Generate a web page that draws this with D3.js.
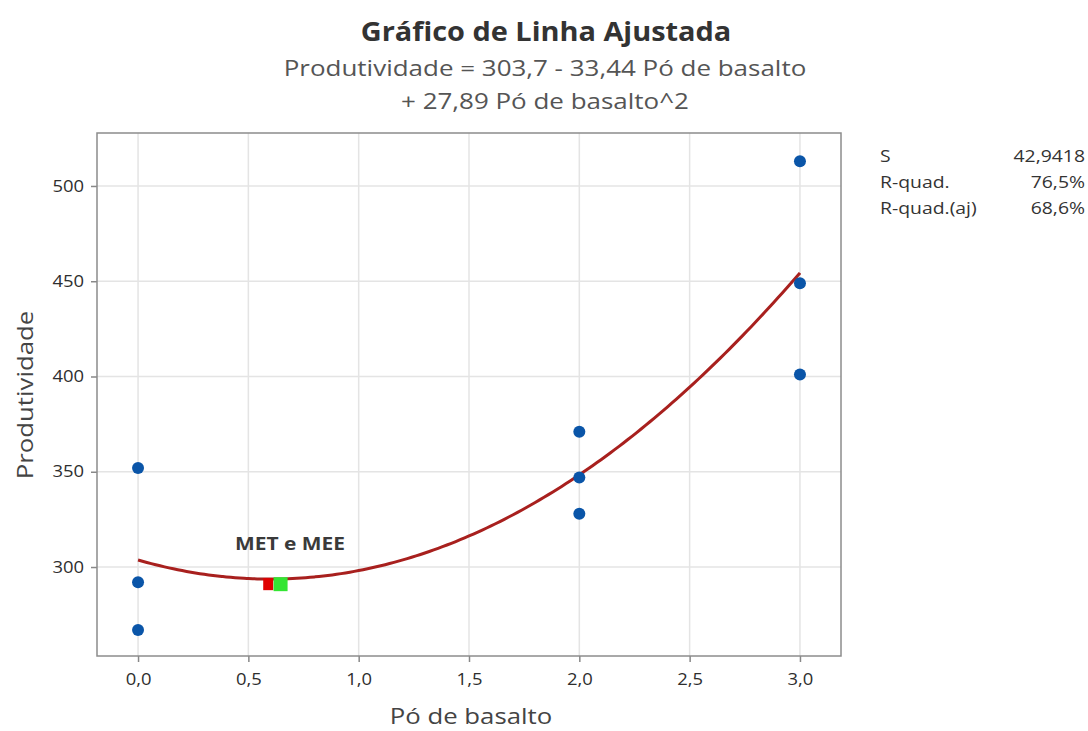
<!DOCTYPE html>
<html>
<head>
<meta charset="utf-8">
<script src="https://cdn.jsdelivr.net/npm/d3@7"></script>
<style>
  body { margin: 0; background: #fff; }
  text { font-family: "Open Sans", "Noto Sans", sans-serif; }
</style>
</head>
<body>
<svg id="chart" width="1088" height="731"></svg>
<script>
// data
const doses = [0, 0, 0, 2, 2, 2, 3, 3, 3];
const produtividade = [352, 292, 267, 371, 347, 328, 513, 449, 401];
// fitted model: b0 + b1*x + b2*x^2
const coef = [303.7, -33.44, 27.89];
const xTicks = [0, 0.5, 1, 1.5, 2, 2.5, 3];
const yTicks = [300, 350, 400, 450, 500];
const optimos = [
  { name: 'MET', x: 0.59, y: 291, color: '#e00000' },
  { name: 'MEE', x: 0.646, y: 291, color: '#33e533' }
];
const stats = [['S', '42,9418'], ['R-quad.', '76,5%'], ['R-quad.(aj)', '68,6%']];

const svg = d3.select('#chart');
const fmt = d3.format('.1f');
const comma = (v) => fmt(v).replace('.', ',');

// the source picture is a bit wider than tall, so widen the text a little
function stretch(sel, k) {
  sel.each(function () {
    const w = this.getComputedTextLength();
    d3.select(this)
      .attr('textLength', w * k)
      .attr('lengthAdjust', 'spacingAndGlyphs');
  });
}

const plotL = 97, plotR = 841, plotT = 133, plotB = 656;

const x = d3.scaleLinear().domain([-0.186, 3.186]).range([plotL, plotR]);
const y = d3.scaleLinear().domain([253.3, 527.8]).range([plotB, plotT]);

// grid
svg.append('g').selectAll('line.gx')
  .data(xTicks)
  .enter()
  .append('line')
  .attr('x1', (d) => x(d)).attr('x2', (d) => x(d))
  .attr('y1', plotT).attr('y2', plotB)
  .attr('stroke', '#e4e4e4').attr('stroke-width', 1.5);

svg.append('g').selectAll('line.gy')
  .data(yTicks)
  .enter()
  .append('line')
  .attr('x1', plotL).attr('x2', plotR)
  .attr('y1', (d) => y(d)).attr('y2', (d) => y(d))
  .attr('stroke', '#e4e4e4').attr('stroke-width', 1.5);

// axes
const xAxis = svg.append('g')
  .attr('transform', `translate(0,${plotB})`)
  .call(d3.axisBottom(x).tickValues(xTicks).tickSize(6).tickPadding(12).tickFormat(comma));
const yAxis = svg.append('g')
  .attr('transform', `translate(${plotL},0)`)
  .call(d3.axisLeft(y).tickValues(yTicks).tickSize(6).tickPadding(7));

[xAxis, yAxis].forEach((a) => {
  a.select('.domain').remove();
  a.selectAll('line').attr('stroke', '#888').attr('stroke-width', 1.5);
  a.selectAll('text')
    .attr('font-size', 16)
    .attr('fill', '#2e2e2e')
    .style('font-family', '"Open Sans", "Noto Sans", sans-serif');
  stretch(a.selectAll('text'), 1.15);
});

// frame
svg.append('rect')
  .attr('x', plotL).attr('y', plotT)
  .attr('width', plotR - plotL).attr('height', plotB - plotT)
  .attr('fill', 'none')
  .attr('stroke', '#8c8c8c')
  .attr('stroke-width', 1.5);

// fitted curve
const curveX = d3.range(0, 3.0001, 0.02);
const line = d3.line()
  .x((d) => x(d))
  .y((d) => y(coef[0] + coef[1] * d + coef[2] * d * d))
  .curve(d3.curveMonotoneX);
svg.append('path')
  .datum(curveX)
  .attr('d', line)
  .attr('fill', 'none')
  .attr('stroke', '#a8201e')
  .attr('stroke-width', 3);

// points
svg.append('g').selectAll('circle')
  .data(doses)
  .enter()
  .append('circle')
  .attr('cx', (d) => x(d))
  .attr('cy', (d, i) => y(produtividade[i]))
  .attr('r', 6)
  .attr('fill', '#0a55a8');

// MET / MEE squares
svg.append('g').selectAll('rect')
  .data(optimos)
  .enter()
  .append('rect')
  .attr('x', (d, i) => x(d.x) - (i ? 7 : 5))
  .attr('y', (d, i) => y(d.y) - (i ? 7 : 6))
  .attr('width', (d, i) => (i ? 14 : 10))
  .attr('height', (d, i) => (i ? 14 : 12))
  .attr('fill', (d) => d.color);

svg.append('text')
  .attr('x', 290).attr('y', 550)
  .attr('text-anchor', 'middle')
  .attr('font-size', 17)
  .attr('font-weight', 'bold')
  .attr('fill', '#3a3a3a')
  .text(optimos.map((d) => d.name).join(' e '))
  .call(stretch, 1.23);

// titles
svg.append('text')
  .attr('x', 546).attr('y', 41)
  .attr('text-anchor', 'middle')
  .attr('font-size', 27)
  .attr('font-weight', 'bold')
  .attr('fill', '#333')
  .text('Gráfico de Linha Ajustada')
  .call(stretch, 1.07);

const eq = [
  `Produtividade = ${comma(coef[0])} - ${String(-coef[1]).replace('.', ',')} Pó de basalto`,
  `+ ${String(coef[2]).replace('.', ',')} Pó de basalto^2`
];
svg.append('g').selectAll('text')
  .data(eq)
  .enter()
  .append('text')
  .attr('x', 545)
  .attr('y', (d, i) => 76 + i * 33)
  .attr('text-anchor', 'middle')
  .attr('font-size', 22)
  .attr('fill', '#555')
  .text((d) => d)
  .call(stretch, 1.18);

// axis labels
svg.append('text')
  .attr('x', 471).attr('y', 724)
  .attr('text-anchor', 'middle')
  .attr('font-size', 22)
  .attr('fill', '#444')
  .text('Pó de basalto')
  .call(stretch, 1.17);

svg.append('text')
  .attr('transform', 'translate(33,395) rotate(-90)')
  .attr('text-anchor', 'middle')
  .attr('font-size', 22)
  .attr('fill', '#444')
  .text('Produtividade')
  .call(stretch, 1.17);

// stats table
const st = svg.append('g').selectAll('g')
  .data(stats)
  .enter()
  .append('g')
  .attr('transform', (d, i) => `translate(0,${162 + i * 26})`);
st.append('text')
  .attr('x', 880)
  .attr('font-size', 15.5)
  .attr('fill', '#333')
  .text((d) => d[0])
  .call(stretch, 1.25);
st.append('text')
  .attr('x', 1085)
  .attr('text-anchor', 'end')
  .attr('font-size', 15.5)
  .attr('fill', '#333')
  .text((d) => d[1])
  .call(stretch, 1.25);
</script>
</body>
</html>
